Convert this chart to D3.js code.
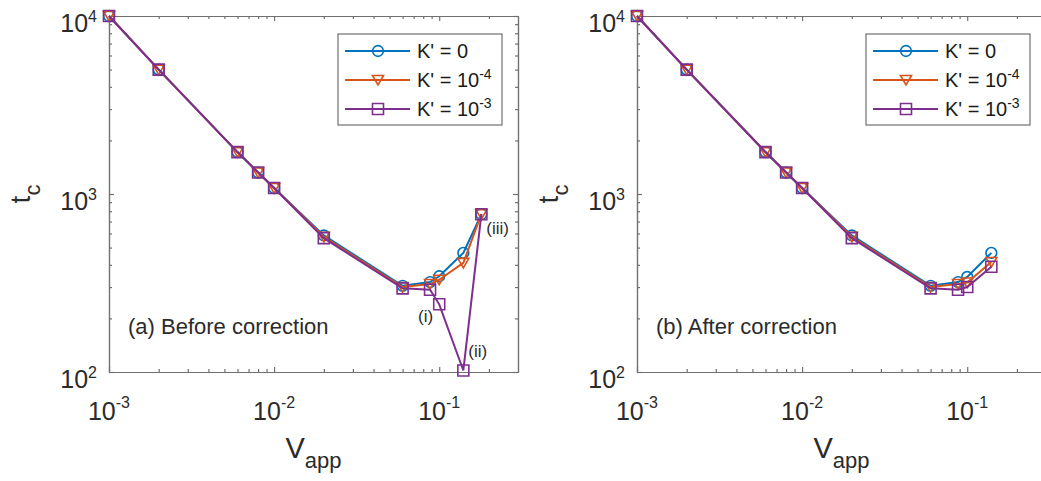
<!DOCTYPE html>
<html>
<head>
<meta charset="utf-8">
<script src="https://cdn.jsdelivr.net/npm/d3@7"></script>
<style>
  body { margin: 0; background: #fff; }
  svg { font-family: 'Liberation Sans', Arial, Helvetica, sans-serif; }
  .axis path, .axis line { stroke: #707070; stroke-width: 1.2; }
</style>
</head>
<body>
<div id="chart"></div>
<script>
// applied voltage values (x)
const vBefore = [0.001, 0.002, 0.006, 0.008, 0.01, 0.02, 0.06, 0.088, 0.1, 0.14, 0.18]
const vAfter = [0.001, 0.002, 0.006, 0.008, 0.01, 0.02, 0.06, 0.088, 0.1, 0.14]

// critical time t_c, before correction
const tcK0Before = [10000, 5000, 1720, 1320, 1080, 585, 305, 320, 345, 467, 770]
const tcK4Before = [10000, 5000, 1720, 1320, 1080, 575, 300, 312, 330, 410, 770]
const tcK3Before = [10000, 5000, 1720, 1320, 1080, 565, 295, 290, 240, 102, 770]

// critical time t_c, after correction
const tcK0After = [10000, 5000, 1720, 1320, 1080, 585, 305, 320, 342, 467]
const tcK4After = [10000, 5000, 1720, 1320, 1080, 575, 300, 312, 318, 415]
const tcK3After = [10000, 5000, 1720, 1320, 1080, 565, 295, 290, 300, 390]

const legendBase = ["K' = 0", "K' = 10", "K' = 10"]
const legendExp = ['', '-4', '-3']
const colors = ['#0072BD', '#D95319', '#7E2F8E']
const markers = ['circle', 'triangle', 'square']

const xMajor = [1e-3, 1e-2, 1e-1]
const yMajor = [1e2, 1e3, 1e4]
const xDomain = [1e-3, 0.3]
const yDomain = [1e2, 1e4]

const W = 1041, H = 481
const svg = d3.select('#chart').append('svg').attr('width', W).attr('height', H)
svg.append('rect').attr('width', W).attr('height', H).attr('fill', '#fff')

// minor ticks of a log axis between the domain ends
function minors(domain) {
  const out = []
  for (let e = Math.floor(Math.log10(domain[0])); e <= Math.ceil(Math.log10(domain[1])); e++) {
    for (let k = 2; k <= 9; k++) {
      const v = k * Math.pow(10, e)
      if (v > domain[0] && v < domain[1]) out.push(v)
    }
  }
  return out
}

function markerPath(type) {
  if (type === 'circle') return d3.symbol(d3.symbolCircle, 90)()
  if (type === 'square') return 'M-5.5,-5.5H5.5V5.5H-5.5Z'
  return 'M-5.5,-4.5L5.5,-4.5L0,5Z'
}

function drawPanel(x0, xs, seriesList, label, notes) {
  const m = {left: x0, top: 16, width: 409, height: 356}
  const x = d3.scaleLog().domain(xDomain).range([m.left, m.left + m.width])
  const y = d3.scaleLog().domain(yDomain).range([m.top + m.height, m.top])
  const g = svg.append('g')

  const mk = (axis, scale, vals, size, tr) => {
    g.append('g').attr('class', 'axis').attr('transform', tr)
      .call(axis(scale).tickValues(vals).tickSize(size).tickSizeOuter(0).tickFormat(''))
  }
  const xm = minors(xDomain), ym = minors(yDomain)
  const bottom = `translate(0,${m.top + m.height})`, top = `translate(0,${m.top})`
  const left = `translate(${m.left},0)`, right = `translate(${m.left + m.width},0)`
  mk(d3.axisBottom, x, xm, -3, bottom); mk(d3.axisBottom, x, xMajor, -5, bottom)
  mk(d3.axisTop, x, xm, -3, top); mk(d3.axisTop, x, xMajor, -5, top)
  mk(d3.axisLeft, y, ym, -3, left); mk(d3.axisLeft, y, yMajor, -5, left)
  mk(d3.axisRight, y, ym, -3, right); mk(d3.axisRight, y, yMajor, -5, right)
  g.selectAll('.axis text').remove()

  // tick labels as 10^n
  const xl = g.selectAll('text.xt').data(xMajor).join('text')
    .attr('x', d => x(d)).attr('y', m.top + m.height + 48)
    .attr('text-anchor', 'middle').attr('fill', '#2b2b2b').attr('font-size', 25)
  xl.append('tspan').text('10')
  xl.append('tspan').attr('dy', -12).attr('font-size', 16).text(d => '-' + Math.abs(Math.round(Math.log10(d))))

  const yl = g.selectAll('text.yt').data(yMajor).join('text')
    .attr('x', m.left - 12).attr('y', d => y(d) + 16)
    .attr('text-anchor', 'end').attr('fill', '#2b2b2b').attr('font-size', 25)
  yl.append('tspan').text('10')
  yl.append('tspan').attr('dy', -10).attr('font-size', 16).text(d => Math.round(Math.log10(d)))

  // axis titles
  const xt = g.append('text').attr('x', m.left + m.width / 2).attr('y', 458)
    .attr('text-anchor', 'middle').attr('fill', '#2b2b2b').attr('font-size', 29)
  xt.append('tspan').text('V')
  xt.append('tspan').attr('dy', 10).attr('font-size', 22).text('app')

  const yt = g.append('text').attr('transform', `translate(${m.left - 79},${m.top + m.height / 2}) rotate(-90)`)
    .attr('text-anchor', 'middle').attr('fill', '#2b2b2b').attr('font-size', 28)
  yt.append('tspan').text('t')
  yt.append('tspan').attr('dy', 10).attr('font-size', 22).text('c')

  // series
  const line = d3.line().x(d => x(d[0])).y(d => y(d[1]))
  seriesList.forEach((vals, i) => {
    const pts = xs.map((v, j) => [v, vals[j]])
    g.append('path').datum(pts).attr('d', line)
      .attr('fill', 'none').attr('stroke', colors[i]).attr('stroke-width', 2)
    g.selectAll(null).data(pts).join('path')
      .attr('transform', d => `translate(${x(d[0])},${y(d[1])})`)
      .attr('d', markerPath(markers[i]))
      .attr('fill', 'none').attr('stroke', colors[i]).attr('stroke-width', 1.6)
  })

  // panel caption
  g.append('text').attr('x', m.left + 19).attr('y', m.top + m.height - 38)
    .attr('fill', '#2b2b2b').attr('font-size', 22).text(label)

  // point notes
  notes.forEach(n => {
    g.append('text').attr('x', x(n.v) + n.dx).attr('y', y(n.t) + n.dy)
      .attr('text-anchor', n.anchor).attr('fill', '#2b2b2b').attr('font-size', 17).text(n.text)
  })

  // legend
  const lx = m.left + 229, ly = 34
  const lg = g.append('g').attr('transform', `translate(${lx},${ly})`)
  lg.append('rect').attr('width', 164).attr('height', 91)
    .attr('fill', '#fff').attr('stroke', '#707070').attr('stroke-width', 1.2)
  legendBase.forEach((b, i) => {
    const ry = 17 + i * 29
    lg.append('line').attr('x1', 7).attr('x2', 72).attr('y1', ry).attr('y2', ry)
      .attr('stroke', colors[i]).attr('stroke-width', 2)
    lg.append('path').attr('transform', `translate(40,${ry})`).attr('d', markerPath(markers[i]))
      .attr('fill', 'none').attr('stroke', colors[i]).attr('stroke-width', 1.6)
    const t = lg.append('text').attr('x', 79).attr('y', ry + 7)
      .attr('fill', '#1a1a1a').attr('font-size', 20)
    t.append('tspan').text(b)
    if (legendExp[i]) t.append('tspan').attr('dy', -8).attr('font-size', 14).text(legendExp[i])
  })
}

drawPanel(109, vBefore, [tcK0Before, tcK4Before, tcK3Before], '(a) Before correction', [
  {v: vBefore[8], t: tcK3Before[8], dx: -6, dy: 18, anchor: 'end', text: '(i)'},
  {v: vBefore[9], t: tcK3Before[9], dx: 5, dy: -13, anchor: 'start', text: '(ii)'},
  {v: vBefore[10], t: tcK3Before[10], dx: 5, dy: 20, anchor: 'start', text: '(iii)'}
])
drawPanel(637, vAfter, [tcK0After, tcK4After, tcK3After], '(b) After correction', [])
</script>
</body>
</html>
